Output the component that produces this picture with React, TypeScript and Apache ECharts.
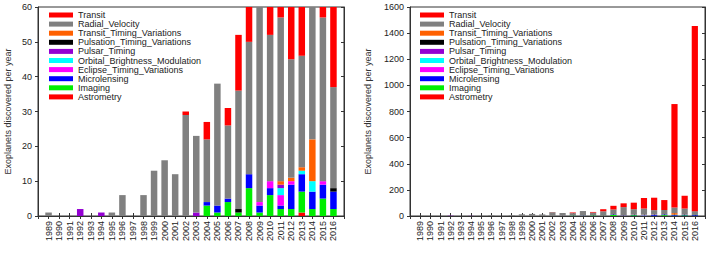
import React, { useEffect, useRef } from "react";
import * as echarts from "echarts";

const years = ["1989","1990","1991","1992","1993","1994","1995","1996","1997","1998","1999","2000","2001","2002","2003","2004","2005","2006","2007","2008","2009","2010","2011","2012","2013","2014","2015","2016"];

const transit = [0,0,0,0,0,0,0,0,0,0,0,0,0,1,0,5,0,5,16,28,29,50,81,95,76,792,98,1418];
const radialVelocity = [1,0,0,0,0,0,1,6,0,6,13,16,12,29,22,18,35,21,34,38,64,42,47,34,32,43,47,29];
const transitTimingVariations = [0,0,0,0,0,0,0,0,0,0,0,0,0,0,0,0,0,0,0,0,0,0,1,1,1,12,0,0];
const pulsationTimingVariations = [0,0,0,0,0,0,0,0,0,0,0,0,0,0,0,0,0,0,1,0,0,0,0,0,0,0,0,1];
const pulsarTiming = [0,0,0,2,0,1,0,0,0,0,0,0,0,0,1,0,0,0,0,0,0,0,1,0,0,0,0,0];
const orbitalBrightnessModulation = [0,0,0,0,0,0,0,0,0,0,0,0,0,0,0,0,0,0,0,0,0,0,2,0,1,3,0,0];
const eclipseTimingVariations = [0,0,0,0,0,0,0,0,0,0,0,0,0,0,0,0,0,0,0,0,1,2,3,1,0,0,1,0];
const microlensing = [0,0,0,0,0,0,0,0,0,0,0,0,0,0,0,1,2,1,0,4,2,2,1,7,5,5,4,5];
const imaging = [0,0,0,0,0,0,0,0,0,0,0,0,0,0,0,3,1,4,1,8,1,6,2,2,6,2,5,2];
const astrometry = [0,0,0,0,0,0,0,0,0,0,0,0,0,0,0,0,0,0,0,0,0,0,0,0,1,0,0,0];

const leftTicks = [0, 10, 20, 30, 40, 50, 60];
const rightTicks = [0, 200, 400, 600, 800, 1000, 1200, 1400, 1600];

// bottom-to-top stacking order
const methods = [
  { name: "Astrometry", data: astrometry, color: "#ff0000" },
  { name: "Imaging", data: imaging, color: "#00ee00" },
  { name: "Microlensing", data: microlensing, color: "#0000ff" },
  { name: "Eclipse_Timing_Variations", data: eclipseTimingVariations, color: "#ff00ff" },
  { name: "Orbital_Brightness_Modulation", data: orbitalBrightnessModulation, color: "#00ffff" },
  { name: "Pulsar_Timing", data: pulsarTiming, color: "#9400d3" },
  { name: "Pulsation_Timing_Variations", data: pulsationTimingVariations, color: "#000000" },
  { name: "Transit_Timing_Variations", data: transitTimingVariations, color: "#ff6000" },
  { name: "Radial_Velocity", data: radialVelocity, color: "#808080" },
  { name: "Transit", data: transit, color: "#ff0000" },
];

const FONT = "Liberation Sans, Arial, Helvetica, sans-serif";
const cats = ["", ...years, ""];
const pad = (a: number[]) => [null, ...a.map((v) => (v === 0 ? null : v)), null];

function App() {
  const ref = useRef<HTMLDivElement>(null);
  useEffect(() => {
    if (!ref.current) return;
    const chart = echarts.init(ref.current, undefined, { renderer: "svg" });
    const grids = [
      { left: 38, top: 7, width: 306, height: 209 },
      { left: 410, top: 7, width: 295, height: 209 },
    ];
    const axisLine = { show: true, lineStyle: { color: "#333", width: 1 } };
    const xAxes: any[] = [];
    const yAxes: any[] = [];
    grids.forEach((g, gi) => {
      xAxes.push({
        type: "category", gridIndex: gi, data: cats, boundaryGap: false, position: "bottom",
        axisLine, axisTick: { show: true, inside: false, length: 3, interval: 0, lineStyle: { color: "#333" } },
        axisLabel: { rotate: 90, interval: 0, fontSize: 9, color: "#222", margin: 5, fontFamily: FONT },
        splitLine: { show: false },
      });
      xAxes.push({
        type: "category", gridIndex: gi, data: cats, boundaryGap: false, position: "top",
        axisLine, axisTick: { show: true, inside: false, length: 3, interval: 0, lineStyle: { color: "#333" } },
        axisLabel: { show: false }, splitLine: { show: false },
      });
      const ticks = gi === 0 ? leftTicks : rightTicks;
      const maxV = ticks[ticks.length - 1];
      const interval = ticks[1] - ticks[0];
      yAxes.push({
        type: "value", gridIndex: gi, min: 0, max: maxV, interval, position: "left",
        axisLine, axisTick: { show: true, inside: false, length: 3, lineStyle: { color: "#333" } },
        axisLabel: { fontSize: 9, color: "#222", margin: 6, fontFamily: FONT, formatter: (v: number) => String(v) },
        splitLine: { show: false },
      });
      yAxes.push({
        type: "value", gridIndex: gi, min: 0, max: maxV, interval, position: "right",
        axisLine, axisTick: { show: true, inside: true, length: 3, lineStyle: { color: "#333" } },
        axisLabel: { show: false }, splitLine: { show: false },
      });
    });
    const series: any[] = [];
    [0, 1].forEach((gi) => {
      methods.forEach((m) => {
        series.push({
          type: "bar", name: m.name, stack: "s" + gi,
          xAxisIndex: gi * 2, yAxisIndex: gi * 2,
          data: pad(m.data), barWidth: gi === 0 ? 6.5 : 6.2,
          itemStyle: { color: m.color }, clip: true,
        });
      });
    });
    const legendNames = methods.map((m) => m.name).reverse();
    const legend = [49, 420].map((left) => ({
      orient: "vertical", left, top: 10.5, data: legendNames.map((n) => ({ name: n, icon: "rect" })),
      itemWidth: 24, itemHeight: 5, itemGap: 0.1, padding: 0,
      textStyle: { fontSize: 9, color: "#222", lineHeight: 9, fontFamily: FONT, padding: [0, 0, 0, 0] },
      selectedMode: false,
    }));
    chart.setOption({
      animation: false,
      textStyle: { fontFamily: FONT },
      grid: grids.map((g) => ({ ...g, show: true, borderColor: "#333", borderWidth: 1, backgroundColor: "transparent" })),
      xAxis: xAxes,
      yAxis: yAxes,
      legend,
      series,
      graphic: [
        { type: "text", x: 7.5, y: 111.5, rotation: Math.PI / 2, style: { text: "Exoplanets discovered per year", fontSize: 9, fill: "#333", align: "center", verticalAlign: "middle", fontFamily: FONT } },
        { type: "text", x: 368, y: 111.5, rotation: Math.PI / 2, style: { text: "Exoplanets discovered per year", fontSize: 9, fill: "#333", align: "center", verticalAlign: "middle", fontFamily: FONT } },
      ],
    });
    return () => chart.dispose();
  }, []);
  return <div ref={ref} style={{ position: "fixed", left: 0, top: 0, width: 711, height: 257, background: "#fff" }} />;
}

export default App;
